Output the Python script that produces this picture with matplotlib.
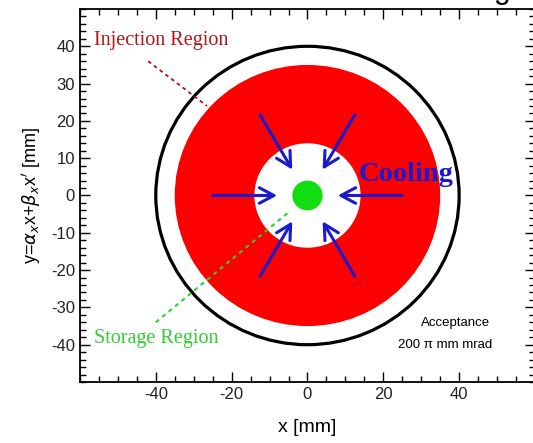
import numpy as np
import matplotlib
matplotlib.use("Agg")
import matplotlib.pyplot as plt
from matplotlib.patches import Circle

plt.rcParams['axes.unicode_minus'] = False

# ---- data ----
acceptance_r = 40
injection_r = 35
cooled_r = 14
storage_r = 4
arrow_angles = [0, 60, 120, 180, 240, 300]
arrow_r_start = 25
arrow_r_end = 8
x_ticks = [-40, -20, 0, 20, 40]
y_ticks = [-40, -30, -20, -10, 0, 10, 20, 30, 40]
inj_line_x = [-42, -26.5]
inj_line_y = [36, 24]
sto_line_x = [-40, -5]
sto_line_y = [-34, -4.5]

fig = plt.figure(figsize=(5.33, 4.43), dpi=100)
ax = fig.add_axes([0.150, 0.1377, 0.8537, 0.842])
ax.set_xlim(-60, 60)
ax.set_ylim(-50, 50)

ax.add_patch(Circle((0, 0), acceptance_r, facecolor='none', edgecolor='black', lw=2.3, zorder=2))
ax.add_patch(Circle((0, 0), injection_r, facecolor='#ff0000', edgecolor='none', zorder=1))
ax.add_patch(Circle((0, 0), cooled_r, facecolor='white', edgecolor='none', zorder=2))
ax.add_patch(Circle((0, 0), storage_r, facecolor='#11dd11', edgecolor='none', zorder=3))

blue = '#1a1ad0'
for a in arrow_angles:
    t = np.deg2rad(a)
    ax.annotate('', xy=(arrow_r_end * np.cos(t), arrow_r_end * np.sin(t)),
                xytext=(arrow_r_start * np.cos(t), arrow_r_start * np.sin(t)),
                arrowprops=dict(arrowstyle='->,head_length=0.75,head_width=0.4',
                                color=blue, lw=2.2, mutation_scale=14,
                                shrinkA=0, shrinkB=0), zorder=4)

ax.plot(inj_line_x, inj_line_y, color='#aa1111', lw=1.3, ls=(0, (2, 2)), zorder=4)
ax.plot(sto_line_x, sto_line_y, color='#33cc33', lw=1.5, ls=(0, (2, 2)), zorder=4)

serif = 'Liberation Serif'
ax.text(-56.2, 41.5, 'Injection Region', color='#b01818', family=serif,
        fontsize=14.5, ha='left', va='center')
ax.text(-56.2, -38.4, 'Storage Region', color='#33cc33', family=serif,
        fontsize=14.5, ha='left', va='center')
ax.text(13.5, 5.7, 'Cooling', color='#1a1ad0', family=serif, fontweight='bold',
        fontsize=20.5, ha='left', va='center', zorder=5)
ax.text(39, -34.3, 'Acceptance', color='black', family='Liberation Sans',
        fontsize=9.5, ha='center', va='center')
ax.text(36.4, -40, '200 \u03c0 mm mrad', color='black', family='Liberation Sans',
        fontsize=9.5, ha='center', va='center')

ax.set_xticks(x_ticks)
ax.set_yticks(y_ticks)
ax.set_xticks(np.arange(-60, 61, 5), minor=True)
ax.set_yticks(np.arange(-50, 51, 2), minor=True)
ax.tick_params(which='both', direction='in', top=True, right=True,
               labelsize=12, labelcolor='#222222', width=1)
ax.tick_params(which='major', length=7)
ax.tick_params(which='minor', length=4)
for lab in ax.get_xticklabels() + ax.get_yticklabels():
    lab.set_family('Liberation Sans')
for s in ax.spines.values():
    s.set_linewidth(1.3)

ax.set_xlabel('x [mm]', fontsize=14, family='Liberation Sans', labelpad=12)
ax.set_ylabel(r'y=$\alpha_x$x+$\beta_x$x$^{\prime}$ [mm]', fontsize=13,
              family='Liberation Sans', labelpad=6)

fig.text(0.959, 1.005, 'Cooling', fontsize=22, family='Liberation Sans',
         ha='right', va='baseline')

fig.savefig('out.png', dpi=100)
